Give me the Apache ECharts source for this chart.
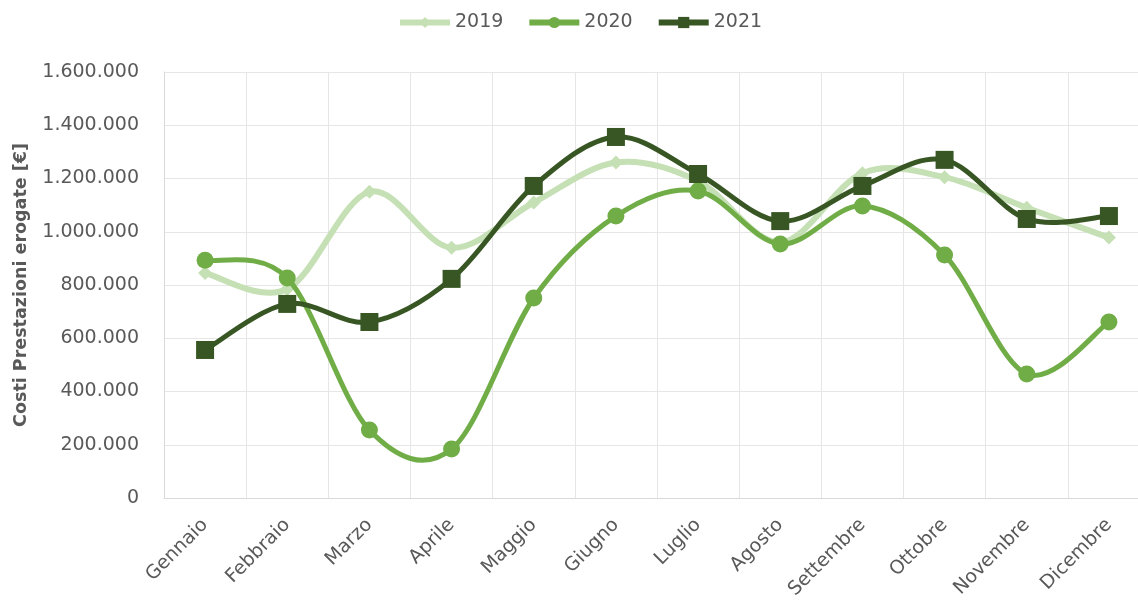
<!DOCTYPE html>
<html>
<head>
<meta charset="utf-8">
<script src="https://cdn.jsdelivr.net/npm/echarts@6/dist/echarts.min.js"></script>
<style>
  html, body { margin: 0; padding: 0; background: #fff; }
  #main { width: 1138px; height: 605px; }
</style>
</head>
<body>
<div id="main"></div>
<script>
var mesi = ['Gennaio', 'Febbraio', 'Marzo', 'Aprile', 'Maggio', 'Giugno',
            'Luglio', 'Agosto', 'Settembre', 'Ottobre', 'Novembre', 'Dicembre'];
var anni = ['2019', '2020', '2021'];
var costi2019 = [845000, 785000, 1150000, 940000, 1110000, 1260000, 1190000, 960000, 1220000, 1205000, 1090000, 978000];
var costi2020 = [893000, 826000, 255000, 184000, 751000, 1059000, 1153000, 954000, 1097000, 913000, 466000, 661000];
var costi2021 = [556000, 729000, 661000, 823000, 1172000, 1356000, 1217000, 1040000, 1172000, 1270000, 1048000, 1059000];

var colori = ['#c5e0b4', '#70ad47', '#375623'];
var simboli = ['diamond', 'circle', 'rect'];
var dimSimboli = [14, 17, 18];
var spessori = [6, 5, 5];
var font = 'DejaVu Sans';
var grigio = '#595959';

// formato italiano: punto come separatore delle migliaia
function migliaia(v) {
    return String(v).replace(/\B(?=(\d{3})+(?!\d))/g, '.');
}

// curva "smussata" come in Excel (Catmull-Rom -> Bezier), un tratto per punto
function curva(valori, colore, spessore) {
    return function (params, api) {
        var i = params.dataIndex;
        if (i >= valori.length - 1) return null;
        var n = valori.length;
        var p = [i - 1, i, i + 1, i + 2].map(function (k) {
            k = Math.max(0, Math.min(n - 1, k));
            return api.coord([k, valori[k]]);
        });
        return {
            type: 'bezierCurve',
            shape: {
                x1: p[1][0], y1: p[1][1],
                x2: p[2][0], y2: p[2][1],
                cpx1: p[1][0] + (p[2][0] - p[0][0]) / 6,
                cpy1: p[1][1] + (p[2][1] - p[0][1]) / 6,
                cpx2: p[2][0] - (p[3][0] - p[1][0]) / 6,
                cpy2: p[2][1] - (p[3][1] - p[1][1]) / 6
            },
            style: { stroke: colore, lineWidth: spessore, fill: null, lineCap: 'round' },
            silent: true
        };
    };
}

var valoriAnni = [costi2019, costi2020, costi2021];
var serie = [];
valoriAnni.forEach(function (valori, j) {
    serie.push({
        name: anni[j],
        type: 'line',
        data: valori,
        symbol: simboli[j],
        symbolSize: dimSimboli[j],
        itemStyle: { color: colori[j] },
        lineStyle: { color: colori[j], width: 0, opacity: 0 },
        z: 2 * j + 2
    });
    serie.push({
        name: anni[j],
        type: 'custom',
        data: valori.map(function (v, i) { return [i, v]; }),
        encode: { x: 0, y: 1 },
        renderItem: curva(valori, colori[j], spessori[j]),
        z: 2 * j + 1
    });
});

var myChart = echarts.init(document.getElementById('main'));
var option = {
    backgroundColor: '#fff',
    animation: false,
    legend: {
        data: anni.map(function (a, j) {
            return {
                name: a,
                itemStyle: { color: colori[j] },
                lineStyle: { color: colori[j], width: 6, opacity: 1 }
            };
        }),
        left: 392,
        top: 8,
        itemWidth: 50,
        itemHeight: 14,
        itemGap: 23,
        textStyle: { color: grigio, fontFamily: font, fontSize: 19 }
    },
    grid: {
        left: 164,
        width: 986,
        top: 72,
        bottom: 107,
        outerBoundsMode: 'none'
    },
    xAxis: {
        type: 'category',
        data: mesi,
        boundaryGap: true,
        axisLine: { lineStyle: { color: '#d9d9d9', width: 1 } },
        axisTick: { show: false },
        splitLine: { show: true, lineStyle: { color: '#e6e6e6', width: 1 } },
        axisLabel: {
            rotate: 45,
            margin: 24,
            color: grigio,
            fontFamily: font,
            fontSize: 19,
            interval: 0
        }
    },
    yAxis: {
        type: 'value',
        min: 0,
        max: 1600000,
        interval: 200000,
        name: 'Costi Prestazioni erogate [€]',
        nameLocation: 'middle',
        nameGap: 134,
        nameTextStyle: { color: grigio, fontFamily: font, fontSize: 17.5, fontWeight: 'bold' },
        axisLine: { show: true, lineStyle: { color: '#d9d9d9', width: 1 } },
        axisTick: { show: false },
        splitLine: { lineStyle: { color: '#e6e6e6', width: 1 } },
        axisLabel: {
            margin: 25,
            color: grigio,
            fontFamily: font,
            fontSize: 19,
            formatter: migliaia
        }
    },
    series: serie
};
myChart.setOption(option);
</script>
</body>
</html>
